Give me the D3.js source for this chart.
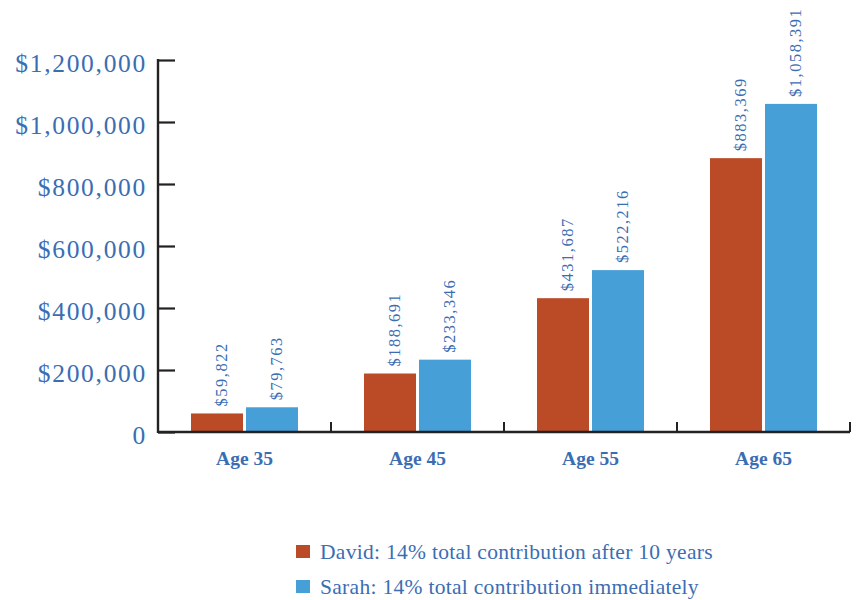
<!DOCTYPE html>
<html><head><meta charset="utf-8">
<script src="https://cdn.jsdelivr.net/npm/d3@7"></script>
<style>body{margin:0;background:#fff}svg{display:block}</style>
</head><body>
<script>
const categories = ["Age 35","Age 45","Age 55","Age 65"];
const seriesNames = ["David: 14% total contribution after 10 years","Sarah: 14% total contribution immediately"];
const david = [59822,188691,431687,883369];
const sarah = [79763,233346,522216,1058391];
const yTicks = [0,200000,400000,600000,800000,1000000,1200000];
const colors = ["#bb4a27","#479fd8"];
const textColor = "#3b6db3";
const font = "'Liberation Serif', 'DejaVu Serif', serif";

const W=856,H=600;
const svg=d3.select("body").append("svg").attr("width",W).attr("height",H);
const x0=d3.scaleBand().domain(categories).range([158,850]).paddingInner(0).paddingOuter(0);
const x1=d3.scaleBand().domain([0,1]).range([33,x0.bandwidth()-33]).paddingInner(0.055);
const y=d3.scaleLinear().domain([0,1200000]).range([432,60]);

// y axis
const fmt=v=>v===0?"0":"$"+d3.format(",")(v);
const ya=svg.append("g").attr("transform","translate(158,0)")
  .call(d3.axisRight(y).tickValues(yTicks).tickSize(17).tickFormat(""));
ya.select(".domain").remove();
ya.selectAll(".tick line").attr("stroke","#222").attr("stroke-width",2.2);
svg.selectAll(".ylab").data(yTicks).enter().append("text")
  .attr("x",147).attr("y",d=>y(d)+3).attr("dy","0.35em").attr("text-anchor","end")
  .attr("fill",textColor).attr("font-family",font).attr("font-size",25.5)
  .style("letter-spacing","1.7px").text(fmt);

// bars
const data=categories.map((c,i)=>({c,vals:[david[i],sarah[i]]}));
const g=svg.append("g");
const grp=g.selectAll("g").data(data).enter().append("g").attr("transform",d=>`translate(${x0(d.c)},0)`);
grp.selectAll("rect").data(d=>d.vals.map((v,k)=>({v,k}))).enter().append("rect")
  .attr("x",d=>x1(d.k)).attr("width",x1.bandwidth())
  .attr("y",d=>y(d.v)).attr("height",d=>y(0)-y(d.v)).attr("fill",d=>colors[d.k]);
grp.selectAll("text.val").data(d=>d.vals.map((v,k)=>({v,k}))).enter().append("text")
  .attr("class","val")
  .attr("transform",d=>`translate(${x1(d.k)+x1.bandwidth()/2+4},${y(d.v)-7}) rotate(-90)`)
  .attr("dy","0.35em").attr("fill",textColor).attr("font-family",font).attr("font-size",16.5)
  .style("letter-spacing","1.5px").text(d=>"$"+d3.format(",")(d.v));

// axes lines
svg.append("line").attr("x1",158).attr("x2",850).attr("y1",y(0)).attr("y2",y(0)).attr("stroke","#222").attr("stroke-width",2.4);
svg.append("line").attr("x1",158).attr("x2",158).attr("y1",59).attr("y2",433).attr("stroke","#222").attr("stroke-width",2.4);
svg.selectAll(".xsep").data(categories).enter().append("line")
  .attr("x1",d=>x0(d)+x0.bandwidth()).attr("x2",d=>x0(d)+x0.bandwidth())
  .attr("y1",422).attr("y2",432).attr("stroke","#222").attr("stroke-width",2);
svg.selectAll(".xlab").data(categories).enter().append("text")
  .attr("x",d=>x0(d)+x0.bandwidth()/2).attr("y",465).attr("text-anchor","middle")
  .attr("fill",textColor).attr("font-family",font).attr("font-size",19.5).attr("font-weight","bold")
  .text(d=>d);

// legend
const lg=svg.selectAll(".lg").data(seriesNames).enter().append("g")
  .attr("transform",(d,i)=>`translate(296,${545+i*35})`);
lg.append("rect").attr("width",14).attr("height",13).attr("fill",(d,i)=>colors[i]);
lg.append("text").attr("x",24).attr("y",14).attr("fill",textColor).attr("font-family",font)
  .attr("font-size",21.5).style("letter-spacing","0.3px").text(d=>d);
</script>
</body></html>
